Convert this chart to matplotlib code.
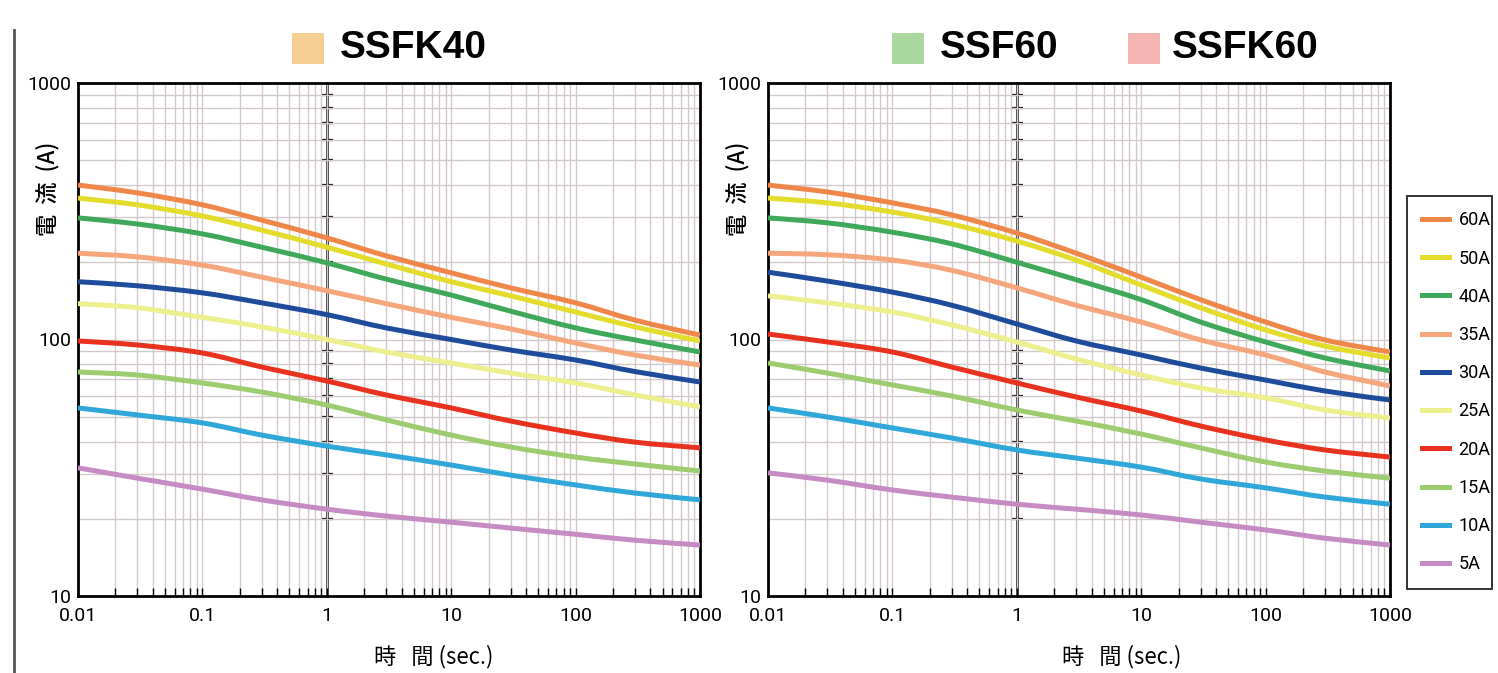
import matplotlib
matplotlib.use("Agg")
import numpy as np
import matplotlib.pyplot as plt
from matplotlib.ticker import LogLocator, NullFormatter, FixedLocator, FixedFormatter, NullLocator
from matplotlib.patches import Rectangle, PathPatch
from matplotlib.path import Path
from matplotlib.lines import Line2D

plt.rcParams['font.family'] = ['Roboto', 'Noto Sans CJK JP', 'DejaVu Sans']

# ---------------- data ----------------
time_s = [0.01, 0.03, 0.1, 0.3, 1, 3, 10, 30, 100, 300, 1000]
labels = ["60A", "50A", "40A", "35A", "30A", "25A", "20A", "15A", "10A", "5A"]
colors = ["#F0874A", "#E3DC2C", "#3FA85B", "#F5A67C", "#1E4C9A",
          "#EDEF8E", "#E8321F", "#9DCB70", "#2FA7D8", "#C58BC2"]

# SSFK40 (left chart), current in A
ssfk40_60A = [400, 373, 335, 292, 249, 212, 182, 159, 139, 119, 104]
ssfk40_50A = [356, 335, 303, 267, 229, 197, 168, 148, 128, 112, 98.7]
ssfk40_40A = [298, 282, 258, 229, 199, 172, 149, 129, 111, 99.6, 89.4]
ssfk40_35A = [217, 210, 195, 175, 155, 138, 122, 110, 96.9, 87.0, 79.5]
ssfk40_30A = [168, 162, 152, 139, 125, 111, 100, 91.0, 83.2, 75.0, 68.3]
ssfk40_25A = [138, 133, 122, 112, 100, 89.4, 81.0, 74.0, 67.7, 60.8, 54.6]
ssfk40_20A = [98.7, 95.2, 88.6, 78.1, 68.9, 60.8, 54.1, 48.1, 43.2, 39.8, 37.8]
ssfk40_15A = [74.7, 72.7, 67.7, 62.4, 55.5, 48.6, 42.4, 38.1, 34.8, 32.7, 30.7]
ssfk40_10A = [54.1, 50.8, 47.3, 42.4, 38.4, 35.5, 32.4, 29.6, 27.1, 25.2, 23.7]
ssfk40_5A = [31.6, 28.8, 26.1, 23.7, 21.8, 20.5, 19.4, 18.4, 17.4, 16.5, 15.8]

# SSF60 / SSFK60 (right chart), current in A
ssf60_60A = [400, 376, 341, 306, 260, 217, 175, 143, 117, 99.6, 89.4]
ssf60_50A = [356, 341, 314, 282, 242, 204, 163, 133, 109, 94.3, 84.7]
ssf60_40A = [298, 285, 262, 236, 200, 171, 143, 117, 97.8, 84.7, 75.4]
ssf60_35A = [217, 214, 204, 186, 159, 136, 117, 99.6, 87.0, 74.7, 65.9]
ssf60_30A = [183, 169, 153, 136, 115, 98.7, 87.0, 77.4, 69.5, 63.0, 58.1]
ssf60_25A = [148, 139, 128, 114, 97.8, 84.0, 72.7, 64.7, 59.2, 53.1, 49.4]
ssf60_20A = [105, 97.8, 89.4, 78.1, 67.7, 59.7, 52.6, 46.0, 40.6, 37.1, 34.8]
ssf60_15A = [81.0, 74.0, 66.5, 60.2, 53.1, 48.1, 42.8, 37.8, 33.3, 30.7, 28.8]
ssf60_10A = [54.1, 49.9, 45.2, 41.3, 37.1, 34.5, 31.8, 28.6, 26.4, 24.3, 22.8]
ssf60_5A = [30.2, 28.3, 25.9, 24.3, 22.8, 21.8, 20.7, 19.4, 18.1, 16.8, 15.8]

left_series = [ssfk40_60A, ssfk40_50A, ssfk40_40A, ssfk40_35A, ssfk40_30A,
               ssfk40_25A, ssfk40_20A, ssfk40_15A, ssfk40_10A, ssfk40_5A]
right_series = [ssf60_60A, ssf60_50A, ssf60_40A, ssf60_35A, ssf60_30A,
                ssf60_25A, ssf60_20A, ssf60_15A, ssf60_10A, ssf60_5A]

x_ticks = [0.01, 0.1, 1, 10, 100, 1000]
x_ticklabels = ["0.01", "0.1", "1", "10", "100", "1000"]
y_ticks = [10, 100, 1000]
y_ticklabels = ["10", "100", "1000"]

# ---------------- figure ----------------
W, H = 1498, 673
fig = plt.figure(figsize=(W / 100, H / 100), dpi=100)
fig.patch.set_facecolor("white")


def fx(px):
    return px / W


def fy(py):
    return 1 - py / H


GRID = "#d2caca"
CJK = ['Noto Sans CJK JP', 'DejaVu Sans']
LW = 3.6


def smooth_path(xs, ys):
    """Smooth curve (Catmull-Rom as cubic Bezier) through the data points, built in log space."""
    lx = np.log10(np.asarray(xs, float))
    ly = np.log10(np.asarray(ys, float))
    P = np.column_stack([lx, ly])
    n = len(P)
    verts = [P[0]]
    codes = [Path.MOVETO]
    for i in range(n - 1):
        p0 = P[i - 1] if i > 0 else P[i]
        p1, p2 = P[i], P[i + 1]
        p3 = P[i + 2] if i + 2 < n else P[i + 1]
        c1 = p1 + (p2 - p0) / 6.0
        c2 = p2 - (p3 - p1) / 6.0
        verts += [c1, c2, p2]
        codes += [Path.CURVE4] * 3
    verts = 10 ** np.array(verts)
    return Path(verts, codes)


def make_axes(x0, series):
    ax = fig.add_axes([fx(x0), fy(596), fx(622), 513 / H])
    ax.set_xscale("log")
    ax.set_yscale("log")
    ax.xaxis.set_major_locator(FixedLocator(x_ticks))
    ax.xaxis.set_major_formatter(FixedFormatter(x_ticklabels))
    ax.xaxis.set_minor_locator(LogLocator(base=10, subs=range(2, 10), numticks=20))
    ax.xaxis.set_minor_formatter(NullFormatter())
    ax.yaxis.set_major_locator(FixedLocator(y_ticks))
    ax.yaxis.set_major_formatter(FixedFormatter(y_ticklabels))
    ax.yaxis.set_minor_locator(LogLocator(base=10, subs=range(2, 10), numticks=20))
    ax.yaxis.set_minor_formatter(NullFormatter())
    ax.grid(which="both", color=GRID, lw=1.0)
    ax.set_axisbelow(True)
    ax.tick_params(axis="x", which="both", direction="in", length=6, width=1,
                   colors="black", labelsize=14, pad=8)
    ax.tick_params(axis="y", which="both", length=0, labelsize=14, pad=5)
    for sp in ax.spines.values():
        sp.set_linewidth(2)
        sp.set_color("black")
    for vals, c in zip(series, colors):
        ax.add_patch(PathPatch(smooth_path(time_s, vals), fill=False, edgecolor=c,
                               lw=LW, capstyle="butt", joinstyle="round", zorder=3))
    ax.set_xlim(0.01, 1000)
    ax.set_ylim(10, 1000)
    # vertical axis line at t = 1 s with tick marks
    sec = ax.secondary_yaxis(0.4)
    sec.spines["left"].set_linewidth(1.8)
    sec.yaxis.set_major_locator(NullLocator())
    sec.yaxis.set_minor_locator(LogLocator(base=10, subs=range(2, 10), numticks=20))
    sec.yaxis.set_minor_formatter(NullFormatter())
    sec.tick_params(which="minor", direction="inout", length=9, width=1.6, color="black")
    return ax


axL = make_axes(78, left_series)
axR = make_axes(768, right_series)

# axis labels
for xc in (48, 738):
    fig.text(fx(xc), fy(189), "電  流  (A)", rotation=90, ha="center", va="center",
             fontsize=16, family=CJK, fontweight="medium")
fig.text(fx(434), fy(657), "時   間 (sec.)", ha="center", va="center", fontsize=16, family=CJK)
fig.text(fx(1122), fy(657), "時   間 (sec.)", ha="center", va="center", fontsize=16, family=CJK)

# titles with coloured squares
title_items = [(292, "#F6CF95", 340, "SSFK40"),
               (892, "#A9D79E", 940, "SSF60"),
               (1128, "#F4B4B2", 1172, "SSFK60")]
for sx, sc, tx, txt in title_items:
    fig.add_artist(Rectangle((fx(sx), fy(64)), fx(32), 31 / H, transform=fig.transFigure,
                             facecolor=sc, edgecolor="none"))
    fig.text(fx(tx), fy(48), txt, ha="left", va="center", fontsize=28,
             fontweight="bold", family=["Liberation Sans", "DejaVu Sans"])

# page edge line
fig.add_artist(Line2D([fx(14), fx(14)], [fy(30), 0], transform=fig.transFigure,
                      color="#555555", lw=2))

# legend
handles = [Line2D([], [], color=c, lw=LW) for c in colors]
leg = fig.legend(handles, labels, loc="upper left",
                 bbox_to_anchor=(fx(1407), fy(592), fx(85), 396 / H),
                 mode="expand", frameon=True, fontsize=13, handlelength=1.5,
                 handletextpad=0.5, labelspacing=1.12, borderpad=0.85,
                 fancybox=False, borderaxespad=0)
leg.get_frame().set_edgecolor("black")
leg.get_frame().set_linewidth(1.4)

fig.savefig("out.png", dpi=100)
